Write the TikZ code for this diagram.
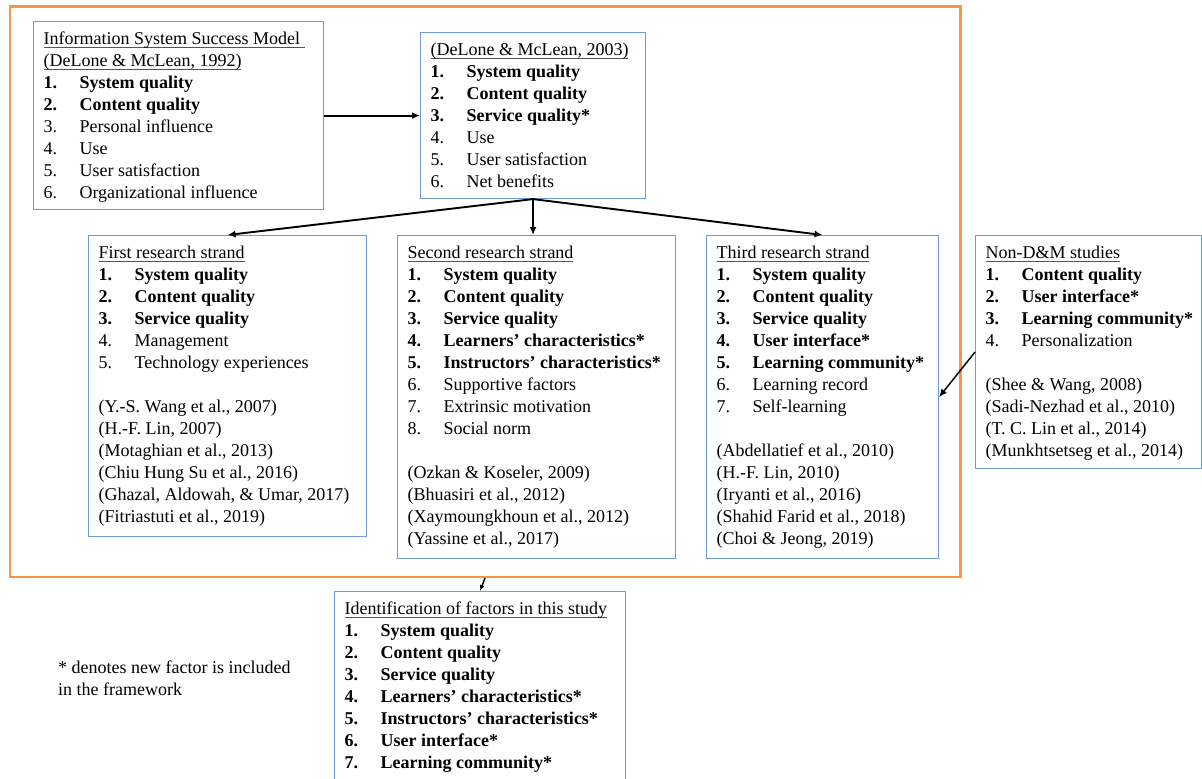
\documentclass[tikz,border=0pt]{standalone}
\usepackage{fontspec}
\setmainfont{Liberation Serif}
\usepackage{tikz}
\usetikzlibrary{arrows.meta,positioning,calc}
\definecolor{cadreorange}{HTML}{F79646}
\definecolor{boiteblue}{HTML}{709CD4}
\definecolor{soulgray}{HTML}{555555}
\newcommand{\itm}[2]{\mbox{\makebox[36pt][l]{#1}#2}}
\newcommand{\itb}[2]{\mbox{\bfseries\makebox[36pt][l]{#1}#2}}
\newcommand{\hd}[1]{\setbox0\hbox{#1}\rlap{\textcolor{soulgray}{\rule[-3pt]{\wd0}{0.8pt}}}\box0}
\hfuzz=6pt

\begin{document}
\begin{tikzpicture}[
    x=1pt,y=-1pt,
    lit/.style n args={2}{draw=boiteblue,line width=1.1pt,anchor=north west,
        inner xsep=10pt,inner ysep=7.5pt,font=\fontsize{18}{22}\selectfont,
        execute at begin node={\begin{minipage}[t][#2][t]{#1}\strut},
        execute at end node={\end{minipage}}},
    link/.style={-{Latex[length=8pt,width=7pt]},line width=1.9pt},
  ]
  \useasboundingbox (0,0) rectangle (1202,779);

  % Cadre des modeles D&M
  \node[draw=cadreorange,line width=2.5pt,anchor=north west,inner sep=0pt,
        minimum width=950.5pt,minimum height=570.5pt] (frame) at (8.5,5) {};

  % Modeles de DeLone et McLean
  \node[lit={270pt}{173pt}] (dm92) at (33,21) {%
    \hd{Information System Success Model }\\
    \hd{(DeLone \& McLean, 1992)}\\
    \itb{1.}{System quality}\\
    \itb{2.}{Content quality}\\
    \itm{3.}{Personal influence}\\
    \itm{4.}{Use}\\
    \itm{5.}{User satisfaction}\\
    \itm{6.}{Organizational influence}};

  \node[lit={205pt}{151pt}] (dm03) at (420,32) {%
    \hd{(DeLone \& McLean, 2003)}\\
    \itb{1.}{System quality}\\
    \itb{2.}{Content quality}\\
    \itb{3.}{Service quality*}\\
    \itm{4.}{Use}\\
    \itm{5.}{User satisfaction}\\
    \itm{6.}{Net benefits}};

  % Courants de recherche
  \node[lit={258pt}{286pt}] (strand1) at (88,235) {%
    \hd{First research strand}\\
    \itb{1.}{System quality}\\
    \itb{2.}{Content quality}\\
    \itb{3.}{Service quality}\\
    \itm{4.}{Management}\\
    \itm{5.}{Technology experiences}\\[22pt]
    (Y.-S. Wang et al., 2007)\\
    (H.-F. Lin, 2007)\\
    (Motaghian et al., 2013)\\
    (Chiu Hung Su et al., 2016)\\
    (Ghazal, Aldowah, \& Umar, 2017)\\
    (Fitriastuti et al., 2019)};

  \node[lit={258pt}{308pt}] (strand2) at (397,235) {%
    \hd{Second research strand}\\
    \itb{1.}{System quality}\\
    \itb{2.}{Content quality}\\
    \itb{3.}{Service quality}\\
    \itb{4.}{Learners’ characteristics*}\\
    \itb{5.}{Instructors’ characteristics*}\\
    \itm{6.}{Supportive factors}\\
    \itm{7.}{Extrinsic motivation}\\
    \itm{8.}{Social norm}\\[22pt]
    (Ozkan \& Koseler, 2009)\\
    (Bhuasiri et al., 2012)\\
    (Xaymoungkhoun et al., 2012)\\
    (Yassine et al., 2017)};

  \node[lit={212pt}{308pt}] (strand3) at (706,235) {%
    \hd{Third research strand}\\
    \itb{1.}{System quality}\\
    \itb{2.}{Content quality}\\
    \itb{3.}{Service quality}\\
    \itb{4.}{User interface*}\\
    \itb{5.}{Learning community*}\\
    \itm{6.}{Learning record}\\
    \itm{7.}{Self-learning}\\[22pt]
    (Abdellatief et al., 2010)\\
    (H.-F. Lin, 2010)\\
    (Iryanti et al., 2016)\\
    (Shahid Farid et al., 2018)\\
    (Choi \& Jeong, 2019)};

  \node[lit={206pt}{218pt}] (nondm) at (975,235) {%
    \hd{Non-D\&M studies}\\
    \itb{1.}{Content quality}\\
    \itb{2.}{User interface*}\\
    \itb{3.}{Learning community*}\\
    \itm{4.}{Personalization}\\[22pt]
    (Shee \& Wang, 2008)\\
    (Sadi-Nezhad et al., 2010)\\
    (T. C. Lin et al., 2014)\\
    (Munkhtsetseg et al., 2014)};

  % Facteurs retenus
  \node[lit={271pt}{185pt}] (study) at (334,591) {%
    \hd{Identification of factors in this study}\\
    \itb{1.}{System quality}\\
    \itb{2.}{Content quality}\\
    \itb{3.}{Service quality}\\
    \itb{4.}{Learners’ characteristics*}\\
    \itb{5.}{Instructors’ characteristics*}\\
    \itb{6.}{User interface*}\\
    \itb{7.}{Learning community*}};

  \node[anchor=north west,inner sep=0pt,align=left,
        font=\fontsize{18}{22}\selectfont] (note) at (58,657.6)
       {\strut* denotes new factor is included\\in the framework};

  % Fleches
  \draw[link] (dm92.east) -- (dm03.west);
  \draw[link] (dm03.south) -- (strand1.north);
  \draw[link] (dm03.south) -- (dm03.south |- strand2.north);
  \draw[link] (dm03.south) -- (strand3.north);
  \draw[link,line width=1.5pt] (nondm.west) -- (strand3.east);
  \draw[-{Latex[length=6pt,width=5pt]},line width=1.5pt] (frame.south) -- (study.north);

\end{tikzpicture}
\end{document}
